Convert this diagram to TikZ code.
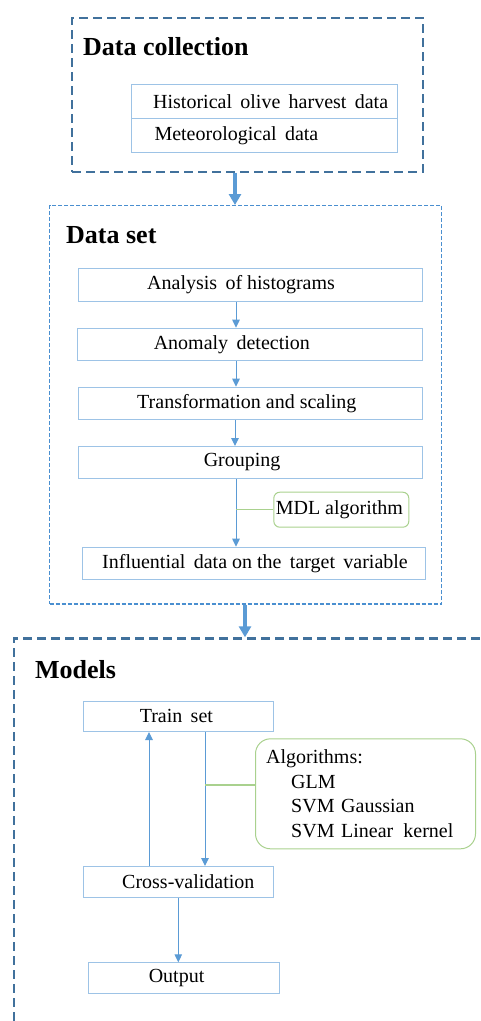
\documentclass[tikz,border=0pt]{standalone}
\usepackage{fontspec}
\setmainfont{Liberation Serif}
\usetikzlibrary{arrows.meta}
\definecolor{outerc}{HTML}{41719C}
\definecolor{setc}{HTML}{4A8FD0}
\definecolor{boxc}{HTML}{9DC3E6}
\definecolor{arrc}{HTML}{5B9BD5}
\definecolor{grn}{HTML}{A9D18E}
\newcommand\myrow[3]{\makebox[#1pt][l]{\hspace*{#2pt}#3}}
\begin{document}
\begin{tikzpicture}[x=1pt,y=-1pt,
 outerbox/.style={draw=outerc, line width=2.2pt, dash pattern=on 9pt off 5pt, inner sep=0, anchor=north west},
 setbox/.style={draw=setc, line width=1.4pt, dash pattern=on 4pt off 2pt, inner sep=0, anchor=north west},
 stepbox/.style={draw=boxc, line width=1pt, inner sep=0, anchor=north west, font=\fontsize{20}{24}\selectfont},
 gbox/.style={draw=grn, line width=1pt, inner sep=0, anchor=north west, font=\fontsize{20}{24.5}\selectfont},
 titletext/.style={font=\fontsize{26}{30}\selectfont\bfseries, anchor=west, inner sep=0},
 thinarrow/.style={draw=arrc, line width=1pt, -{Triangle[length=8pt,width=7.5pt]}},
 bigarrow/.style={draw=arrc, line width=3.8pt, -{Triangle[length=11pt,width=12pt]}},
 gline/.style={draw=grn, line width=1.1pt}]
\useasboundingbox (0,0) rectangle (481,1021);
\clip (0,0) rectangle (481,1021);

% Data collection
\node[outerbox, minimum width=350.7pt, minimum height=154pt] (dc) at (71,16.7) {};
\node[titletext] (dctitle) at (83,47) {Data collection};
\node[stepbox, minimum height=34.3pt] (hist) at (130.7,84) {\myrow{266.6}{22}{Historical\, olive\, harvest\, data}};
\node[stepbox, minimum height=34pt] (met) at (130.7,118.3) {\myrow{266.6}{23.3}{Meteorological\, data}};

% Data set
\node[setbox, minimum width=392pt, minimum height=398.3pt] (ds) at (49,205) {};
\node[titletext] (dstitle) at (66,235) {Data set};
\node[stepbox, minimum height=33.3pt] (a1) at (78.3,267.7) {\myrow{344}{68.4}{Analysis\, of histograms}};
\node[stepbox, minimum height=32.3pt] (a2) at (76.7,327.7) {\myrow{345}{76.6}{Anomaly\, detection}};
\node[stepbox, minimum height=32.6pt] (a3) at (78.3,386.7) {\myrow{343.4}{58.4}{Transformation and scaling}};
\node[stepbox, minimum height=32pt] (a4) at (78.3,446) {\myrow{343.4}{125}{Grouping}};
\node[stepbox, minimum height=32.3pt] (a5) at (82.3,546.7) {\myrow{342.7}{19.4}{Influential\, data on the\, target\, variable}};
\node[gbox, rounded corners=6pt, minimum height=35pt] (mdl) at (273.3,491.7) {\myrow{135}{2}{MDL algorithm}};

\draw[bigarrow] (235,0 |- dc.south) -- (235,0 |- ds.north);
\draw[thinarrow] (236,0 |- a1.south) -- (236,0 |- a2.north);
\draw[thinarrow] (236,0 |- a2.south) -- (236,0 |- a3.north);
\draw[thinarrow] (235,0 |- a3.south) -- (235,0 |- a4.north);
\draw[thinarrow] (236,0 |- a4.south) -- (236,0 |- a5.north);
\coordinate (j1) at (236,509.3);
\draw[gline] (j1) -- (mdl.west |- j1);

% Models
\node[outerbox, minimum width=520pt, minimum height=420pt] (mb) at (12.7,637.3) {};
\node[titletext] (mbtitle) at (35,670) {Models};
\draw[bigarrow] (245,0 |- ds.south) -- (245,0 |- mb.north);

\node[stepbox, minimum height=30.3pt] (ts) at (82.7,700.7) {\myrow{190.6}{56.6}{Train\, set}};
\node[stepbox, minimum height=30.7pt] (cv) at (82.7,866) {\myrow{190.6}{39}{Cross-validation}};
\node[stepbox, minimum height=30.4pt] (out) at (87.7,962.3) {\myrow{191.3}{60.6}{Output}};
\node[gbox, rounded corners=15pt, minimum width=220pt, minimum height=110pt, text width=198.6pt, inner xsep=10.7pt, align=left] (alg) at (255,738.3)
 {Algorithms:\\\hspace*{25pt}GLM\\\hspace*{25pt}SVM Gaussian\\\hspace*{25pt}SVM Linear\, kernel};

\draw[thinarrow] (149,0 |- cv.north) -- (149,0 |- ts.south);
\draw[thinarrow] (205,0 |- ts.south) -- (205,0 |- cv.north);
\draw[thinarrow] (178.3,0 |- cv.south) -- (178.3,0 |- out.north);
\coordinate (j2) at (205,785);
\draw[gline] (j2) -- (alg.west |- j2);
\end{tikzpicture}
\end{document}
